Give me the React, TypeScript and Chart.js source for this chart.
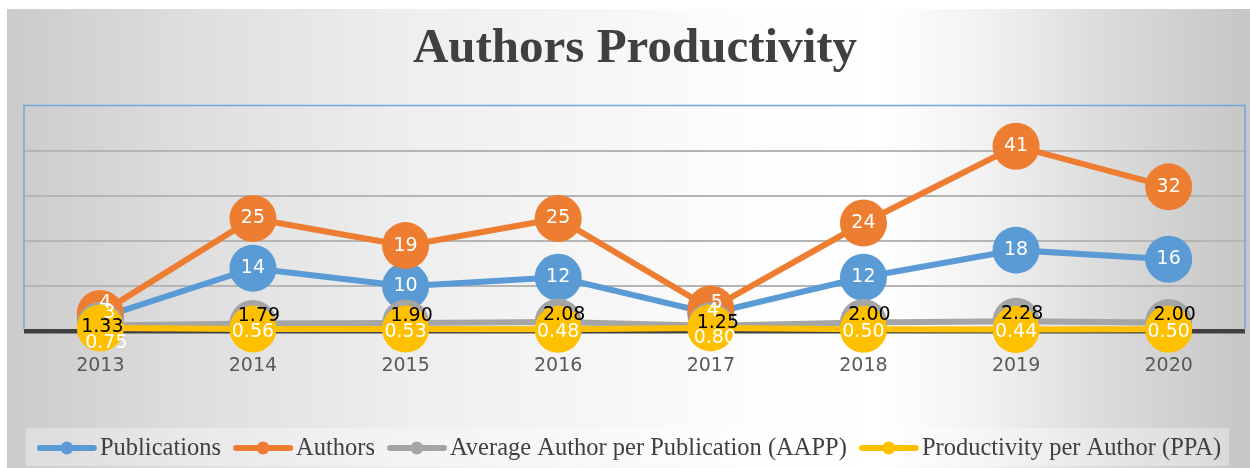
import React, { useEffect, useRef } from 'react';
import { Chart, registerables } from 'chart.js';

Chart.register(...registerables);

// ---- data ----
const years = ['2013', '2014', '2015', '2016', '2017', '2018', '2019', '2020'];
const publications = [3, 14, 10, 12, 4, 12, 18, 16];
const authors = [4, 25, 19, 25, 5, 24, 41, 32];
const aapp = [1.33, 1.79, 1.9, 2.08, 1.25, 2.0, 2.28, 2.0];
const ppa = [0.75, 0.56, 0.53, 0.48, 0.8, 0.5, 0.44, 0.5];
const seriesNames = [
  'Publications',
  'Authors',
  'Average Author per Publication (AAPP)',
  'Productivity per Author (PPA)',
];
const titleText = 'Authors Productivity';
const yMin = 0;
const yMax = 50;
const yStep = 10;

// ---- styles ----
const COLORS = ['#5b9bd5', '#ed7d31', '#a5a5a5', '#ffc000'];
const LABEL_COLORS = ['#ffffff', '#ffffff', '#000000', '#ffffff'];
const DECIMALS = [0, 0, 2, 2];
const LABEL_OFFSETS: [number, number][] = [
  [0, 0],
  [0, 0],
  [6, -7],
  [0, 3],
];
// overlapping labels moved apart (dataset-index)
const LABEL_NUDGES: Record<string, [number, number]> = {
  '0-0': [9, -5],
  '1-0': [5, -10],
  '2-0': [2, 2],
  '3-0': [6, 15],
  '0-4': [2, -2],
  '1-4': [6, -6],
  '2-4': [7, -3],
  '3-4': [4, 10],
};

const W = 1250;
const H = 468;
const PLOT = { left: 24, right: 1245, top: 105.5, bottom: 331.5 };
const SANS = '"DejaVu Sans", Verdana, sans-serif';
const SERIF = '"Liberation Serif", "Times New Roman", serif';

const decorPlugin = {
  id: 'decor',
  beforeDraw(chart: any) {
    const ctx = chart.ctx as CanvasRenderingContext2D;
    ctx.save();
    ctx.fillStyle = '#ffffff';
    ctx.fillRect(0, 0, W, H);
    const x0 = 7;
    const y0 = 9;
    const g = ctx.createLinearGradient(x0, 0, W, 0);
    g.addColorStop(0, '#cbcbcb');
    g.addColorStop(0.155, '#dfdfdf');
    g.addColorStop(0.32, '#eeeeee');
    g.addColorStop(0.6, '#fdfdfd');
    g.addColorStop(0.7, '#ffffff');
    g.addColorStop(0.78, '#f3f3f3');
    g.addColorStop(0.88, '#dcdcdc');
    g.addColorStop(1, '#c6c6c6');
    ctx.fillStyle = g;
    ctx.fillRect(x0, y0, W - x0, H - y0);

    // title
    ctx.fillStyle = '#404040';
    ctx.font = `bold 49px ${SERIF}`;
    ctx.textAlign = 'center';
    ctx.textBaseline = 'alphabetic';
    ctx.fillText(titleText, 635, 62);

    // legend
    ctx.fillStyle = 'rgba(255,255,255,0.32)';
    ctx.fillRect(26, 428, 1229 - 26, 38);
    ctx.font = `24.5px ${SERIF}`;
    ctx.textAlign = 'left';
    const markerLen = 60;
    const textGap = 3;
    const itemGap = 12;
    const widths = seriesNames.map((n) => ctx.measureText(n).width);
    const total =
      widths.reduce((a, b) => a + b, 0) +
      seriesNames.length * (markerLen + textGap) +
      (seriesNames.length - 1) * itemGap;
    let x = 629 - total / 2;
    const ly = 448;
    seriesNames.forEach((name, i) => {
      ctx.strokeStyle = COLORS[i];
      ctx.lineWidth = 6;
      ctx.lineCap = 'round';
      ctx.beginPath();
      ctx.moveTo(x + 3, ly);
      ctx.lineTo(x + markerLen - 3, ly);
      ctx.stroke();
      ctx.fillStyle = COLORS[i];
      ctx.beginPath();
      ctx.arc(x + markerLen / 2, ly, 6.5, 0, Math.PI * 2);
      ctx.fill();
      ctx.fillStyle = '#404040';
      ctx.textBaseline = 'alphabetic';
      ctx.fillText(name, x + markerLen + textGap, 455);
      x += markerLen + textGap + widths[i] + itemGap;
    });
    ctx.restore();
  },
  beforeDatasetsDraw(chart: any) {
    const ctx = chart.ctx as CanvasRenderingContext2D;
    const a = chart.chartArea;
    ctx.save();
    ctx.strokeStyle = '#6fa8dc';
    ctx.lineWidth = 1.5;
    ctx.beginPath();
    ctx.moveTo(a.left, a.bottom - 2);
    ctx.lineTo(a.left, a.top);
    ctx.lineTo(a.right, a.top);
    ctx.lineTo(a.right, a.bottom - 2);
    ctx.stroke();
    ctx.restore();
  },
  afterDatasetsDraw(chart: any) {
    const ctx = chart.ctx as CanvasRenderingContext2D;
    ctx.save();
    ctx.font = `19px ${SANS}`;
    ctx.textAlign = 'center';
    ctx.textBaseline = 'middle';
    chart.data.datasets.forEach((ds: any, di: number) => {
      const meta = chart.getDatasetMeta(di);
      meta.data.forEach((pt: any, i: number) => {
        const v = ds.data[i] as number;
        const nudge = LABEL_NUDGES[`${di}-${i}`] || LABEL_OFFSETS[di];
        ctx.fillStyle = LABEL_COLORS[di];
        ctx.fillText(v.toFixed(DECIMALS[di]), pt.x + nudge[0], pt.y + nudge[1]);
      });
    });
    ctx.restore();
  },
};

export default function App() {
  const ref = useRef<HTMLCanvasElement | null>(null);
  useEffect(() => {
    if (!ref.current) return;
    const series = [publications, authors, aapp, ppa];
    const chart = new Chart(ref.current, {
      type: 'line',
      data: {
        labels: years,
        datasets: series.map((d, i) => ({
          label: seriesNames[i],
          data: d,
          borderColor: COLORS[i],
          backgroundColor: COLORS[i],
          pointBackgroundColor: COLORS[i],
          pointBorderWidth: 0,
          pointRadius: 23.5,
          borderWidth: 6,
          tension: 0,
          clip: false,
          order: 4 - i,
        })),
      },
      options: {
        responsive: false,
        animation: false,
        events: [],
        layout: {
          autoPadding: false,
          padding: { left: PLOT.left, right: W - PLOT.right, top: PLOT.top, bottom: 0 },
        },
        plugins: {
          legend: { display: false },
          title: { display: false },
          tooltip: { enabled: false },
        },
        scales: {
          x: {
            offset: true,
            grid: { display: false, drawTicks: false },
            border: { display: false },
            ticks: {
              color: '#595959',
              font: { family: SANS, size: 19 },
              padding: 23,
            },
            afterFit(s: any) {
              s.height = H - PLOT.bottom;
              s.paddingLeft = 0;
              s.paddingRight = 0;
            },
          },
          y: {
            min: yMin,
            max: yMax,
            border: { display: false },
            ticks: { display: false, stepSize: yStep },
            grid: {
              drawTicks: false,
              color: (c: any) =>
                c.tick && c.tick.value === yMin
                  ? '#404040'
                  : c.tick && c.tick.value === yMax
                  ? 'rgba(0,0,0,0)'
                  : '#b5b5b5',
              lineWidth: (c: any) => (c.tick && c.tick.value === yMin ? 4.5 : 2),
            },
            afterFit(s: any) {
              s.width = 0;
              s.paddingTop = 0;
              s.paddingBottom = 0;
            },
          },
        },
      },
      plugins: [decorPlugin],
    } as any);
    return () => chart.destroy();
  }, []);
  return (
    <canvas
      ref={ref}
      width={W}
      height={H}
      style={{ position: 'fixed', left: 0, top: 0, width: W, height: H }}
    />
  );
}
